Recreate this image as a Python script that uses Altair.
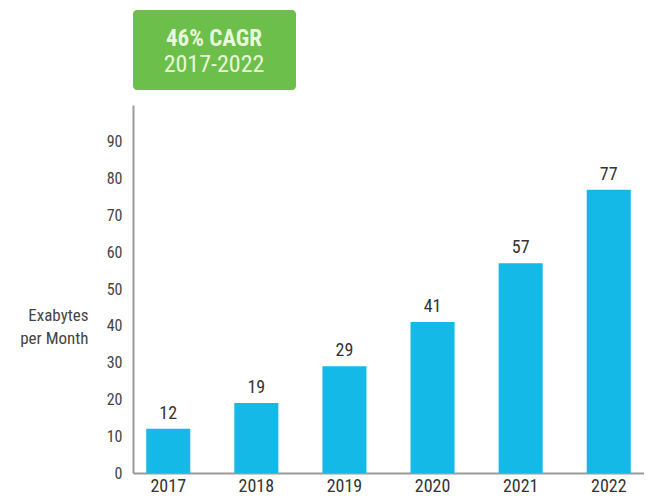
import altair as alt
import pandas as pd

years = ["2017", "2018", "2019", "2020", "2021", "2022"]
exabytes = [12, 19, 29, 41, 57, 77]
badge_lines = ["46% CAGR", "2017-2022"]
y_ticks = [0, 10, 20, 30, 40, 50, 60, 70, 80, 90]
y_title = ["Exabytes", "per Month"]

FONT = "Roboto Condensed, Liberation Sans Narrow, Roboto"

df = pd.DataFrame({"year": years, "value": exabytes})
badge_df = pd.DataFrame({"line": badge_lines})

x_enc = alt.X(
    "year:N",
    sort=years,
    scale=alt.Scale(paddingInner=0.5, paddingOuter=0.15),
    axis=alt.Axis(
        title=None, labelAngle=0, ticks=False, labelPadding=4,
        labelFontSize=18, labelColor="#333333", labelFont=FONT,
        domainColor="#9a9a9a", domainWidth=2,
    ),
)
y_enc = alt.Y(
    "value:Q",
    scale=alt.Scale(domain=[0, 100], nice=False),
    axis=alt.Axis(
        values=y_ticks, grid=False, ticks=False, labelPadding=11,
        labelFontSize=16, labelColor="#444444", labelFont=FONT,
        domainColor="#9a9a9a", domainWidth=2,
        title=y_title, titleAngle=0, titleAlign="right", titleBaseline="middle",
        titleX=-45, titleY=210, titleFontWeight="normal", titleFontSize=17,
        titleColor="#444444", titleFont=FONT, titleLineHeight=23,
    ),
)

base = alt.Chart(df)
bars = base.mark_bar(color="#14B9E8").encode(x=x_enc, y=y_enc)
labels = base.mark_text(
    dy=-10, baseline="alphabetic", fontSize=18, color="#333333", font=FONT
).encode(x=x_enc, y=y_enc, text="value:Q")

badge_box = alt.Chart(badge_df.head(1)).mark_rect(
    color="#6BBF4A", cornerRadius=4
).encode(
    x=alt.value(0), x2=alt.value(163), y=alt.value(-95), y2=alt.value(-15)
)
badge_t1 = alt.Chart(badge_df.iloc[[0]]).mark_text(
    fontSize=23, fontWeight="bold", color="#E8F8DA", font=FONT, baseline="middle"
).encode(x=alt.value(81), y=alt.value(-66), text="line:N")
badge_t2 = alt.Chart(badge_df.iloc[[1]]).mark_text(
    fontSize=24, color="#E8F8DA", font=FONT, baseline="middle"
).encode(x=alt.value(81), y=alt.value(-40), text="line:N")

chart = alt.layer(bars, labels, badge_box, badge_t1, badge_t2).properties(
    width=511, height=368,
    autosize=alt.AutoSizeParams(type="none"),
    padding={"left": 125, "top": 97, "right": 0, "bottom": 23},
    background="white",
).configure_view(stroke="transparent")

chart.save("out.html", embed_options={"renderer": "svg", "actions": False})
